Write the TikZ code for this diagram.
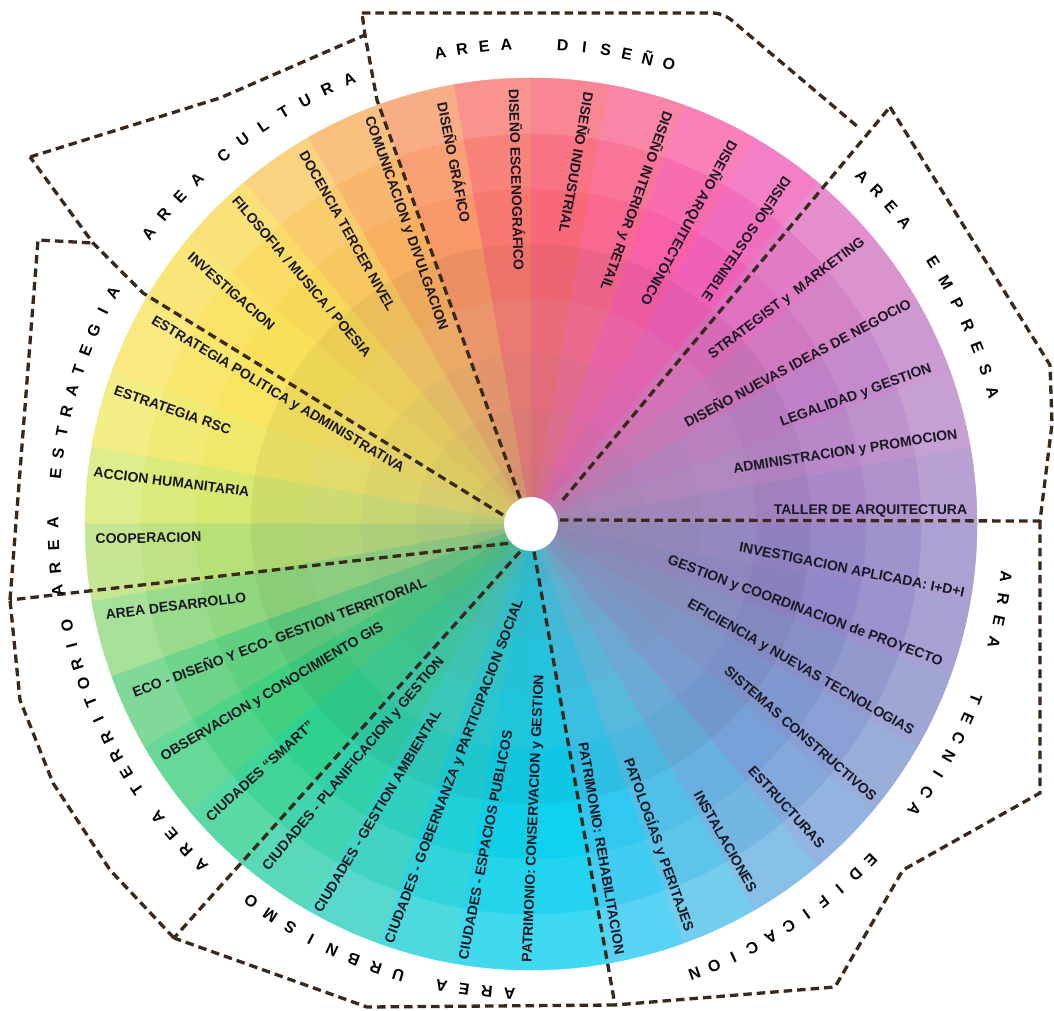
\documentclass[tikz,border=0pt]{standalone}
\usepackage{fontspec}
\setmainfont{Liberation Sans}
\usetikzlibrary{calc}
\definecolor{dashc}{HTML}{3A2819}
\definecolor{labc}{HTML}{1A1822}
\definecolor{s0}{HTML}{A888C8}
\definecolor{s1}{HTML}{B888C8}
\definecolor{s2}{HTML}{C080C8}
\definecolor{s3}{HTML}{D078C0}
\definecolor{s4}{HTML}{E070C0}
\definecolor{s5}{HTML}{F060B8}
\definecolor{s6}{HTML}{F860A8}
\definecolor{s7}{HTML}{F86890}
\definecolor{s8}{HTML}{F86878}
\definecolor{s9}{HTML}{F87870}
\definecolor{s10}{HTML}{F89868}
\definecolor{s11}{HTML}{F8B060}
\definecolor{s12}{HTML}{F8C860}
\definecolor{s13}{HTML}{F8D858}
\definecolor{s14}{HTML}{F8E058}
\definecolor{s15}{HTML}{F8E460}
\definecolor{s16}{HTML}{F0E868}
\definecolor{s17}{HTML}{D8E870}
\definecolor{s18}{HTML}{B8E078}
\definecolor{s19}{HTML}{90D880}
\definecolor{s20}{HTML}{60D080}
\definecolor{s21}{HTML}{40D080}
\definecolor{s22}{HTML}{30D090}
\definecolor{s23}{HTML}{30D0A8}
\definecolor{s24}{HTML}{30D0C0}
\definecolor{s25}{HTML}{20D0D8}
\definecolor{s26}{HTML}{10D0E8}
\definecolor{s27}{HTML}{10D0F0}
\definecolor{s28}{HTML}{30C8F0}
\definecolor{s29}{HTML}{50C0E8}
\definecolor{s30}{HTML}{68B0E0}
\definecolor{s31}{HTML}{78A0D8}
\definecolor{s32}{HTML}{8098D0}
\definecolor{s33}{HTML}{8890C8}
\definecolor{s34}{HTML}{9088C8}
\definecolor{s35}{HTML}{9888C8}
\tikzset{
  lab/.style={font=\bfseries\fontsize{14}{14}\selectfont, text=labc, inner sep=0pt},
  ttl/.style={font=\bfseries\fontsize{16}{16}\selectfont, text=black, inner sep=0pt},
  dl/.style={draw=dashc, line width=3.3pt, dash pattern=on 8.5pt off 5pt},
}
\newcommand\arcword[5]{%
  \foreach \ch [count=\i from 0] in {#5}{%
    \pgfmathsetmacro\ang{#2-\i*#3}%
    \node[ttl, rotate=\ang-90] (#1\i) at (\ang:#4pt) {\ch};}}
\begin{document}
\begin{tikzpicture}[x=1pt,y=1pt]
\useasboundingbox (-531,-487) rectangle (523,524);
\fill[white] (-531,-487) rectangle (523,524);
% colour wheel
\foreach \k in {0,...,35}{
  \foreach \ro/\ri/\m in {446/390/{!80!white}, 390/335/{!92!white}, 335/280/{}, 280/225/{!95!black}, 225/170/{!88!gray}, 170/115/{!82!gray}, 115/60/{!76!gray}, 60/26/{!70!gray}}{
    \fill[fill=s\k\m, draw=s\k\m, line width=0.5pt]
      ({10*\k}:\ro pt) arc[start angle={10*\k}, end angle={10*\k+10}, radius=\ro pt]
      -- ({10*\k+10}:\ri pt) arc[start angle={10*\k+10}, end angle={10*\k}, radius=\ri pt] -- cycle;
  }
}
\fill[white] (0,0) circle (27pt);
% boundary coordinates
\coordinate (a1) at (31.7,24);   \coordinate (a1o) at (359,417);
\coordinate (a2) at (29,4);      \coordinate (a2o) at (509,3);
\coordinate (a3) at (3,-27.7);   \coordinate (a3o) at (84,-481);
\coordinate (a4) at (-11,-27.7); \coordinate (a4o) at (-357,-414);
\coordinate (a5) at (-22.7,-19.3); \coordinate (a5o) at (-521,-76);
\coordinate (a6) at (-28,9);     \coordinate (a6m) at (-388,231); \coordinate (a6j) at (-438,281); \coordinate (a6o) at (-501,367);
\coordinate (a7) at (-11,26);    \coordinate (a7m) at (-154,424); \coordinate (a7j) at (-166,489); \coordinate (a7o) at (-169,511);
\coordinate (d1) at (192,511);   \coordinate (d2) at (327,397);
\coordinate (e1) at (519,159);   \coordinate (e2) at (521,100);
\coordinate (t1) at (509,-269);  \coordinate (t2) at (372,-346); \coordinate (t3) at (304,-463);
\coordinate (u1) at (-164,-483);
\coordinate (p1) at (-421,-346); \coordinate (p2) at (-478,-259); \coordinate (p3) at (-511,-176);
\coordinate (q1) at (-493,284);
\coordinate (k1) at (-311,426);
% dashed boundaries
\draw[dl] (a1) -- (a1o);
\draw[dl] (a2) -- (a2o);
\draw[dl] (a3) -- (a3o);
\draw[dl] (a4) -- (a4o);
\draw[dl] (a5) -- (a5o);
\draw[dl] (a6) -- (a6m) -- (a6j) -- (a6o);
\draw[dl] (a7) -- (a7m) -- (a7j) -- (a7o);
\draw[dl, rounded corners=10pt] (a7o) -- (d1) -- (d2);
\draw[dl] (a1o) -- (e1) -- (e2) -- (a2o);
\draw[dl] (a2o) -- (t1) -- (t2) -- (t3) -- (a3o);
\draw[dl] (a3o) -- (u1) -- (a4o);
\draw[dl] (a4o) -- (p1) -- (p2) -- (p3) -- (a5o);
\draw[dl] (a5o) -- (q1) -- (a6j);
\draw[dl] (a6o) -- (k1) -- (a7j);
% labels
\node[lab, rotate=0]      (l1)  at (339.5,13)    {TALLER DE ARQUITECTURA};
\node[lab, rotate=8.8]    (l2)  at (314.5,71.5)  {ADMINISTRACION y PROMOCION};
\node[lab, rotate=20.2]   (l3)  at (325,128)     {LEGALIDAD y GESTION};
\node[lab, rotate=28.3]   (l4)  at (266,162)     {DISEÑO NUEVAS IDEAS DE NEGOCIO};
\node[lab, rotate=37.1]   (l5)  at (256,225)     {STRATEGIST y\ \ MARKETING};
\node[lab, rotate=-124.2] (l6)  at (216.5,284.5) {DISEÑO SOSTENIBLE};
\node[lab, rotate=-118.8] (l7)  at (158,301)     {DISEÑO ARQUITECTÓNICO};
\node[lab, rotate=-109.5] (l8)  at (105.5,323)   {DISEÑO INTERIOR y RETAIL};
\node[lab, rotate=-100.1] (l9)  at (46.5,361)    {DISEÑO INDUSTRIAL};
\node[lab, rotate=-88.4]  (l10) at (-13.5,344)   {DISEÑO ESCENOGRÁFICO};
\node[lab, rotate=-78.8]  (l11) at (-76,361.5)   {DISEÑO GRÁFICO};
\node[lab, rotate=-70.6]  (l12) at (-125.5,300.5) {COMUNICACION y DIVULGACION};
\node[lab, rotate=-60.6]  (l13) at (-183.5,293)  {DOCENCIA TERCER NIVEL};
\node[lab, rotate=-49.6]  (l14) at (-229,247.5)  {FILOSOFIA / MUSICA / POESIA};
\node[lab, rotate=-41.3]  (l15) at (-299.5,232.5) {INVESTIGACION};
\node[lab, rotate=-30.9]  (l16) at (-253.5,129)  {ESTRATEGIA POLITICA y ADMINISTRATIVA};
\node[lab, rotate=-19.2]  (l17) at (-358.5,114)  {ESTRATEGIA RSC};
\node[lab, rotate=-7.3]   (l18) at (-359.5,42)   {ACCION HUMANITARIA};
\node[lab, rotate=1.1]    (l19) at (-382.5,-14)  {COOPERACION};
\node[lab, rotate=7.2]    (l20) at (-355,-82)    {AREA DESARROLLO};
\node[lab, rotate=20.8]   (l21) at (-252,-112.5) {ECO - DISEÑO Y ECO- GESTION TERRITORIAL};
\node[lab, rotate=31]     (l22) at (-258.5,-168.5) {OBSERVACION y CONOCIMIENTO GIS};
\node[lab, rotate=42.6]   (l23) at (-271,-247)   {CIUDADES “SMART”};
\node[lab, rotate=50]     (l24) at (-177,-240)   {CIUDADES - PLANIFICACION y GESTION};
\node[lab, rotate=59]     (l25) at (-153.5,-287) {CIUDADES - GESTION AMBIENTAL};
\node[lab, rotate=69.2]   (l26) at (-76,-247.5)  {CIUDADES - GOBERNANZA y PARTICIPACION SOCIAL};
\node[lab, rotate=78.9]   (l27) at (-45.5,-321)  {CIUDADES - ESPACIOS PUBLICOS};
\node[lab, rotate=87.6]   (l28) at (3,-294.5)    {PATRIMONIO: CONSERVACION y GESTION};
\node[lab, rotate=-80.1]  (l29) at (70.5,-324.5) {PATRIMONIO: REHABILITACION};
\node[lab, rotate=-70.4]  (l30) at (128,-321)    {PATOLOGÍAS y PERITAJES};
\node[lab, rotate=-60.4]  (l31) at (194.5,-317.5) {INSTALACIONES};
\node[lab, rotate=-47.6]  (l32) at (255.5,-283)  {ESTRUCTURAS};
\node[lab, rotate=-41.2]  (l33) at (269.5,-209.5) {SISTEMAS CONSTRUCTIVOS};
\node[lab, rotate=-30]    (l34) at (269.5,-144)  {EFICIENCIA y NUEVAS TECNOLOGIAS};
\node[lab, rotate=-20.5]  (l35) at (274,-87.5)   {GESTION y COORDINACION de PROYECTO};
\node[lab, rotate=-11.5]  (l36) at (321,-45.5)   {INVESTIGACION APLICADA: I+D+I};
% area titles
\arcword{tdA}{100.9}{2.65}{480}{A,R,E,A}
\arcword{tdB}{86.2}{2.58}{480}{D,I,S,E,Ñ,O}
\arcword{tcA}{142.8}{2.9}{480}{A,R,E,A}
\arcword{tcB}{129.8}{2.93}{480}{C,U,L,T,U,R,A}
\arcword{teA}{46.4}{2.5}{480}{A,R,E,A}
\arcword{teB}{33.1}{2.87}{480}{E,M,P,R,E,S,A}
\arcword{ttA}{-6.4}{2.65}{478}{A,R,E,A}
\arcword{ttB}{-21.5}{2.53}{478}{T,E,C,N,I,C,A}
\arcword{ttC}{-44.7}{2.53}{478}{E,D,I,F,I,C,A,C,I,O,N}
\arcword{tuA}{-92.6}{2.8}{470}{A,R,E,A}
\arcword{tuB}{-106.4}{2.88}{470}{U,R,B,N,I,S,M,O}
\arcword{trA}{-134}{2.6}{475}{A,R,E,A}
\arcword{trB}{-146}{2.4}{475}{T,E,R,R,I,T,O,R,I,O}
\arcword{tsA}{188}{2.7}{478}{A,R,E,A}
\arcword{tsB}{174}{2.55}{478}{E,S,T,R,A,T,E,G,I,A}
\end{tikzpicture}
\end{document}
